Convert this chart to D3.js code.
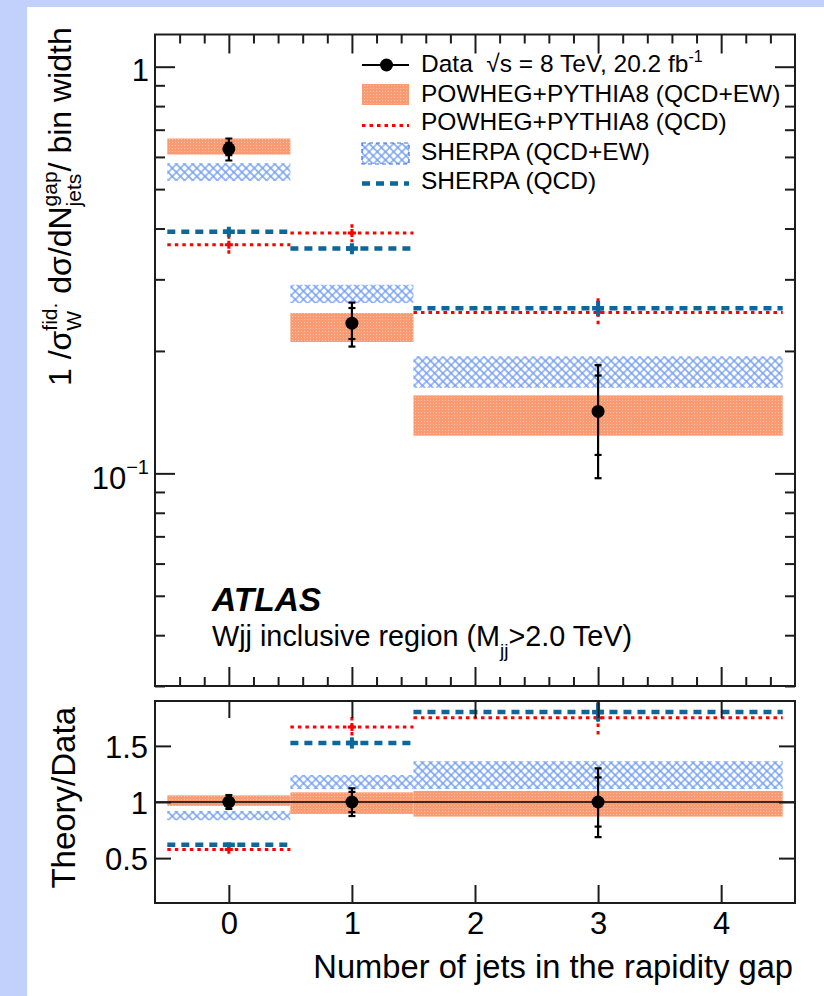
<!DOCTYPE html>
<html>
<head>
<meta charset="utf-8">
<script src="https://cdn.jsdelivr.net/npm/d3@7"></script>
<style>
  html, body { margin: 0; padding: 0; background: #fff; }
  svg { display: block; }
  text { font-family: "Liberation Sans", Arial, Helvetica, sans-serif; fill: #000; }
</style>
</head>
<body>
<div id="chart"></div>
<script>
// Bins in the number of jets in the rapidity gap; the last bin is inclusive and its point sits at 3
const binEdges = [[-0.5, 0.5], [0.5, 1.5], [1.5, 4.5]];
const dataX = [0, 1, 3];

// Normalised cross section, 1/sigma dsigma/dN per bin width
const dataValue  = [0.628, 0.234, 0.142];
const dataStatLo = [0.606, 0.214, 0.111];
const dataStatHi = [0.650, 0.255, 0.174];
const dataTotLo  = [0.588, 0.205, 0.0973];
const dataTotHi  = [0.666, 0.263, 0.1845];

const powhegEwLo = [0.608, 0.2104, 0.1238];
const powhegEwHi = [0.666, 0.2478, 0.1555];
const sherpaEwLo = [0.524, 0.2623, 0.1623];
const sherpaEwHi = [0.579, 0.291, 0.194];
const powhegQcd    = [0.365, 0.390, 0.2487];
const powhegQcdErr = [0.020, 0.020, 0.021];
const sherpaQcd    = [0.393, 0.357, 0.2547];
const sherpaQcdErr = [0.011, 0.011, 0.011];

// Theory / Data
const ratioDataStatLo = [0.965, 0.910, 0.781];
const ratioDataStatHi = [1.035, 1.090, 1.219];
const ratioDataTotLo  = [0.938, 0.875, 0.687];
const ratioDataTotHi  = [1.062, 1.122, 1.300];
const ratioPowhegEwLo = [0.965, 0.894, 0.870];
const ratioPowhegEwHi = [1.059, 1.086, 1.098];
const ratioSherpaEwLo = [0.838, 1.115, 1.115];
const ratioSherpaEwHi = [0.920, 1.240, 1.364];
const ratioPowhegQcd    = [0.577, 1.668, 1.750];
const ratioPowhegQcdErr = [0.035, 0.090, 0.150];
const ratioSherpaQcd    = [0.618, 1.526, 1.801];
const ratioSherpaQcdErr = [0.020, 0.050, 0.080];

// Axis ticks and labels
const xMajorTicks = [0, 1, 2, 3, 4];
const xMinorTicks = d3.range(-0.4, 4.45, 0.2).filter(v => Math.abs(v - Math.round(v)) > 1e-6);
const yMajorTicks = [1, 0.1];
const yMinorTicks = [0.03, 0.04, 0.05, 0.06, 0.07, 0.08, 0.09, 0.2, 0.3, 0.4, 0.5, 0.6, 0.7, 0.8, 0.9];
const ratioTicks = [0.5, 1, 1.5];
const ratioTickLabels = ["0.5", "1", "1.5"];

const legendLabels = [
  "Data",
  "POWHEG+PYTHIA8 (QCD+EW)",
  "POWHEG+PYTHIA8 (QCD)",
  "SHERPA (QCD+EW)",
  "SHERPA (QCD)"
];

// ---- layout ----
const W = 824, H = 996;
const plotL = 155, plotR = 795;
const topT = 34.5, topB = 686;
const ratT = 701, ratB = 903;

const RED = "#ff0000";
const BLUE = "#0d679a";
const HATCH = "#6f9cf4";
const FRAME = "#1c1c1c";

const svg = d3.select("#chart").append("svg").attr("width", W).attr("height", H);

svg.append("rect").attr("width", W).attr("height", H).attr("fill", "#c2d1fc");
svg.append("rect").attr("x", 27).attr("y", 7).attr("width", W - 27).attr("height", H - 7).attr("fill", "#fff");

const defs = svg.append("defs");
// fine dotted orange fill
const pf = defs.append("pattern").attr("id", "orangeFill").attr("patternUnits", "userSpaceOnUse")
  .attr("width", 3).attr("height", 3);
pf.append("rect").attr("width", 3).attr("height", 3).attr("fill", "#f99b72");
pf.append("rect").attr("x", 1).attr("y", 1).attr("width", 1).attr("height", 1).attr("fill", "#fcc4aa");
// cross hatch
const ph = defs.append("pattern").attr("id", "crossHatch").attr("patternUnits", "userSpaceOnUse")
  .attr("width", 5.8).attr("height", 5.8).attr("patternTransform", "rotate(45)");
ph.append("path").attr("d", "M0,2.9H5.8M2.9,0V5.8").attr("stroke", HATCH).attr("stroke-width", 1.3);

defs.append("clipPath").attr("id", "clipTop").append("rect")
  .attr("x", plotL).attr("y", topT).attr("width", plotR - plotL).attr("height", topB - topT);
defs.append("clipPath").attr("id", "clipRat").append("rect")
  .attr("x", plotL).attr("y", ratT).attr("width", plotR - plotL).attr("height", ratB - ratT);

const x = d3.scaleLinear().domain([-0.6, 4.6]).range([plotL, plotR]);
const y = d3.scaleLog().domain([0.0300, 1.20]).range([topB, topT]);
const yr = d3.scaleLinear().domain([0.1, 1.9]).range([ratB, ratT]);

// ---- panel drawing ----
function drawPanel(clipId, ys, s) {
  const g = svg.append("g").attr("clip-path", `url(#${clipId})`);
  // uncertainty bands
  binEdges.forEach((b, i) => {
    g.append("rect").attr("x", x(b[0])).attr("width", x(b[1]) - x(b[0]))
      .attr("y", ys(s.pEwHi[i])).attr("height", ys(s.pEwLo[i]) - ys(s.pEwHi[i]))
      .attr("fill", "url(#orangeFill)");
    g.append("rect").attr("x", x(b[0])).attr("width", x(b[1]) - x(b[0]))
      .attr("y", ys(s.sEwHi[i])).attr("height", ys(s.sEwLo[i]) - ys(s.sEwHi[i]))
      .attr("fill", "url(#crossHatch)");
  });
  if (s.unity) {
    g.append("line").attr("x1", plotL).attr("x2", plotR).attr("y1", ys(1)).attr("y2", ys(1))
      .attr("stroke", "#000").attr("stroke-width", 1.5);
  }
  // POWHEG QCD (dotted red): one horizontal per bin plus vertical error
  binEdges.forEach((b, i) => {
    g.append("line").attr("x1", x(b[0])).attr("x2", x(b[1]))
      .attr("y1", ys(s.pQcd[i])).attr("y2", ys(s.pQcd[i]))
      .attr("stroke", RED).attr("stroke-width", 3).attr("stroke-dasharray", "3.5,4");
  });
  dataX.forEach((xv, i) => {
    g.append("line").attr("x1", x(xv)).attr("x2", x(xv))
      .attr("y1", ys(s.pQcd[i] + s.pQcdErr[i])).attr("y2", ys(s.pQcd[i] - s.pQcdErr[i]))
      .attr("stroke", RED).attr("stroke-width", 3).attr("stroke-dasharray", "3.5,4");
    g.append("line").attr("x1", x(xv) - 4).attr("x2", x(xv) + 4)
      .attr("y1", ys(s.pQcd[i])).attr("y2", ys(s.pQcd[i])).attr("stroke", RED).attr("stroke-width", 3);
    g.append("line").attr("x1", x(xv)).attr("x2", x(xv))
      .attr("y1", ys(s.pQcd[i]) - 4).attr("y2", ys(s.pQcd[i]) + 4).attr("stroke", RED).attr("stroke-width", 3);
  });
  // SHERPA QCD (dashed blue)
  binEdges.forEach((b, i) => {
    g.append("line").attr("x1", x(b[0])).attr("x2", x(b[1]))
      .attr("y1", ys(s.sQcd[i])).attr("y2", ys(s.sQcd[i]))
      .attr("stroke", BLUE).attr("stroke-width", 4.5).attr("stroke-dasharray", "8,6");
  });
  dataX.forEach((xv, i) => {
    g.append("line").attr("x1", x(xv)).attr("x2", x(xv))
      .attr("y1", ys(s.sQcd[i] + s.sQcdErr[i])).attr("y2", ys(s.sQcd[i] - s.sQcdErr[i]))
      .attr("stroke", BLUE).attr("stroke-width", 4);
    g.append("line").attr("x1", x(xv) - 6).attr("x2", x(xv) + 6)
      .attr("y1", ys(s.sQcd[i])).attr("y2", ys(s.sQcd[i])).attr("stroke", BLUE).attr("stroke-width", 4.5);
  });
  // data points with stat and total error bars
  dataX.forEach((xv, i) => {
    g.append("line").attr("x1", x(xv)).attr("x2", x(xv))
      .attr("y1", ys(s.dTotHi[i])).attr("y2", ys(s.dTotLo[i])).attr("stroke", "#000").attr("stroke-width", 2.2);
    [s.dTotHi[i], s.dTotLo[i], s.dStatHi[i], s.dStatLo[i]].forEach(v => {
      g.append("line").attr("x1", x(xv) - 3.5).attr("x2", x(xv) + 3.5)
        .attr("y1", ys(v)).attr("y2", ys(v)).attr("stroke", "#000").attr("stroke-width", 2.2);
    });
    g.append("circle").attr("cx", x(xv)).attr("cy", ys(s.dVal[i])).attr("r", 6.5).attr("fill", "#000");
  });
}

drawPanel("clipTop", y, {
  pEwLo: powhegEwLo, pEwHi: powhegEwHi, sEwLo: sherpaEwLo, sEwHi: sherpaEwHi,
  pQcd: powhegQcd, pQcdErr: powhegQcdErr, sQcd: sherpaQcd, sQcdErr: sherpaQcdErr,
  dVal: dataValue, dStatLo: dataStatLo, dStatHi: dataStatHi, dTotLo: dataTotLo, dTotHi: dataTotHi,
  unity: false
});
drawPanel("clipRat", yr, {
  pEwLo: ratioPowhegEwLo, pEwHi: ratioPowhegEwHi, sEwLo: ratioSherpaEwLo, sEwHi: ratioSherpaEwHi,
  pQcd: ratioPowhegQcd, pQcdErr: ratioPowhegQcdErr, sQcd: ratioSherpaQcd, sQcdErr: ratioSherpaQcdErr,
  dVal: dataX.map(() => 1), dStatLo: ratioDataStatLo, dStatHi: ratioDataStatHi,
  dTotLo: ratioDataTotLo, dTotHi: ratioDataTotHi,
  unity: true
});

// ---- axes (ticks point inwards) ----
function axis(gen, tx, ty) {
  const g = svg.append("g").attr("transform", `translate(${tx},${ty})`).call(gen);
  g.select(".domain").remove();
  g.selectAll(".tick line").attr("stroke", FRAME).attr("stroke-width", 2);
  return g;
}
const noLabel = () => "";

// top panel, x
axis(d3.axisTop(x).tickValues(xMajorTicks).tickSize(-19).tickFormat(noLabel), 0, topT);
axis(d3.axisTop(x).tickValues(xMinorTicks).tickSize(-9).tickFormat(noLabel), 0, topT);
axis(d3.axisBottom(x).tickValues(xMajorTicks).tickSize(-19).tickFormat(noLabel), 0, topB);
axis(d3.axisBottom(x).tickValues(xMinorTicks).tickSize(-9).tickFormat(noLabel), 0, topB);
// top panel, y
const yLab = axis(d3.axisLeft(y).tickValues(yMajorTicks).tickSize(-20).tickPadding(6).tickFormat(noLabel), plotL, 0);
axis(d3.axisLeft(y).tickValues(yMinorTicks).tickSize(-10).tickFormat(noLabel), plotL, 0);
axis(d3.axisRight(y).tickValues(yMajorTicks).tickSize(-20).tickFormat(noLabel), plotR, 0);
axis(d3.axisRight(y).tickValues(yMinorTicks).tickSize(-10).tickFormat(noLabel), plotR, 0);
yLab.selectAll(".tick text").each(function (d) {
  const t = d3.select(this).attr("font-size", 31).attr("font-family", null).attr("fill", "#000");
  if (d === 1) {
    t.attr("dy", "0.44em").text("1");
  } else {
    t.attr("dy", "0.48em").text("10");
    t.append("tspan").attr("font-size", 20).attr("dy", "-0.75em").text("\u22121");
  }
});

// ratio panel
axis(d3.axisTop(x).tickValues(xMajorTicks).tickSize(-17).tickFormat(noLabel), 0, ratT);
const xr = axis(d3.axisBottom(x).tickValues(xMajorTicks).tickSize(-18).tickPadding(9)
  .tickFormat(d3.format("d")), 0, ratB);
xr.selectAll(".tick text").attr("font-size", 31).attr("font-family", null).attr("fill", "#000");
const yrl = axis(d3.axisLeft(yr).tickValues(ratioTicks).tickSize(-16).tickPadding(7)
  .tickFormat((d, i) => ratioTickLabels[i]), plotL, 0);
yrl.selectAll(".tick text").attr("font-size", 31).attr("font-family", null).attr("fill", "#000").attr("dy", "0.38em");
axis(d3.axisRight(yr).tickValues(ratioTicks).tickSize(-16).tickFormat(noLabel), plotR, 0);

// frames
[[topT, topB], [ratT, ratB]].forEach(([t, b]) => {
  svg.append("rect").attr("x", plotL).attr("y", t).attr("width", plotR - plotL).attr("height", b - t)
    .attr("fill", "none").attr("stroke", FRAME).attr("stroke-width", 2);
});

// ---- axis titles ----
// rich text along a rotated baseline: segments with optional stacked sub/superscripts
function rotatedTitle(segs, baseX, startY, mainSize, smallSize) {
  const g = svg.append("g");
  let pos = 0;
  segs.forEach(s => {
    if (s.sup !== undefined) {
      const a = g.append("text").attr("x", pos).attr("y", -0.45 * mainSize).attr("font-size", smallSize).text(s.sup);
      const b = g.append("text").attr("x", pos).attr("y", 0.3 * mainSize).attr("font-size", smallSize).text(s.sub);
      pos += Math.max(a.node().getComputedTextLength(), b.node().getComputedTextLength());
    } else {
      const t = g.append("text").attr("x", pos).attr("y", 0).attr("font-size", mainSize)
        .attr("xml:space", "preserve").style("white-space", "pre").text(s.t);
      pos += t.node().getComputedTextLength();
    }
  });
  g.attr("transform", `translate(${baseX},${startY}) rotate(-90)`);
  return pos;
}
rotatedTitle([
  { t: "1 /\u03c3" }, { sup: "fid.", sub: "W" },
  { t: " d\u03c3/dN" }, { sup: "gap", sub: "jets" },
  { t: "/ bin width" }
], 71, 386, 32, 21);

svg.append("text").attr("transform", "translate(75,707) rotate(-90)")
  .attr("text-anchor", "end").attr("font-size", 33).text("Theory/Data");

svg.append("text").attr("x", 793).attr("y", 978).attr("text-anchor", "end")
  .attr("font-size", 32.7).text("Number of jets in the rapidity gap");

// ---- labels ----
svg.append("text").attr("x", 212).attr("y", 611).attr("font-size", 33.5)
  .attr("font-weight", "bold").attr("font-style", "italic").text("ATLAS");
const reg = svg.append("text").attr("x", 212).attr("y", 646).attr("font-size", 28.8);
reg.append("tspan").text("Wjj inclusive region (M");
reg.append("tspan").attr("font-size", 19).attr("dy", 11).text("jj");
reg.append("tspan").attr("dy", -11).text(">2.0 TeV)");

// ---- legend ----
const legX0 = 362, legX1 = 409, legTextX = 421;
const legBase = [72, 101.5, 130, 159.5, 188.5];
const lg = svg.append("g");
// data
lg.append("line").attr("x1", legX0).attr("x2", legX1).attr("y1", legBase[0] - 7).attr("y2", legBase[0] - 7)
  .attr("stroke", "#000").attr("stroke-width", 2.2);
lg.append("circle").attr("cx", (legX0 + legX1) / 2 + 1).attr("cy", legBase[0] - 7).attr("r", 6.5).attr("fill", "#000");
// POWHEG QCD+EW
lg.append("rect").attr("x", legX0).attr("y", legBase[1] - 17.5).attr("width", legX1 - legX0).attr("height", 21)
  .attr("fill", "url(#orangeFill)");
// POWHEG QCD
lg.append("line").attr("x1", legX0).attr("x2", legX1).attr("y1", legBase[2] - 4.5).attr("y2", legBase[2] - 4.5)
  .attr("stroke", RED).attr("stroke-width", 3).attr("stroke-dasharray", "3.5,4");
// SHERPA QCD+EW
lg.append("rect").attr("x", legX0).attr("y", legBase[3] - 16.5).attr("width", legX1 - legX0).attr("height", 21)
  .attr("fill", "url(#crossHatch)").attr("stroke", "#3d6ee6").attr("stroke-width", 1.2)
  .attr("stroke-dasharray", "4,3");
// SHERPA QCD
lg.append("line").attr("x1", legX0).attr("x2", legX1).attr("y1", legBase[4] - 5).attr("y2", legBase[4] - 5)
  .attr("stroke", BLUE).attr("stroke-width", 4.5).attr("stroke-dasharray", "8,6");

legendLabels.forEach((lab, i) => {
  const t = lg.append("text").attr("x", legTextX).attr("y", legBase[i]).attr("font-size", 24.5)
    .attr("xml:space", "preserve").style("white-space", "pre");
  if (i === 0) {
    t.append("tspan").text(lab + "  \u221as = 8 TeV, 20.2 fb");
    t.append("tspan").attr("font-size", 16).attr("dy", -10).text("-1");
  } else {
    t.text(lab);
  }
});
</script>
</body>
</html>
